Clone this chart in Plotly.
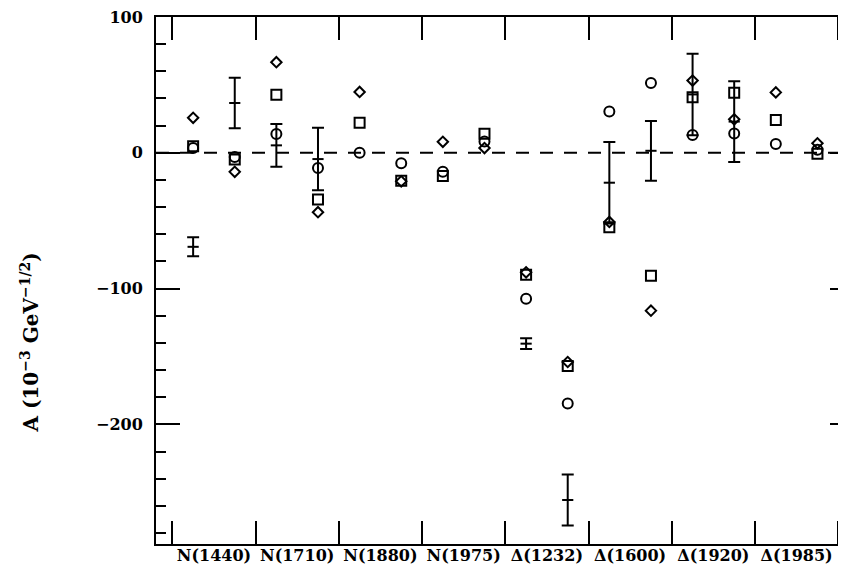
import plotly.graph_objects as go

categories = ["N(1440)", "N(1710)", "N(1880)", "N(1975)",
              "Δ(1232)", "Δ(1600)", "Δ(1920)", "Δ(1985)"]

# two amplitude columns per resonance (A1/2, A3/2)
diamond = [25.8, -14.0, 66.7, -43.7, 44.8, -21.0, 8.1, 3.5,
           -88.0, -154.0, -50.9, -116.2, 53.2, 24.7, 44.5, 7.0]
square = [4.8, -5.0, 42.7, -34.3, 22.1, -20.6, -17.0, 14.1,
          -89.8, -156.9, -54.8, -90.5, 41.0, 44.3, 24.1, -0.6]
circle = [3.5, -3.0, 13.9, -11.1, 0.0, -7.6, -14.0, 8.4,
          -107.4, -184.6, 30.4, 51.4, 13.1, 14.2, 6.5, 2.3]
exp_val = [-69.2, 36.7, 5.5, -4.6, None, None, None, None,
           -140.5, -255.6, -22.0, 1.5, 43.0, 23.0, None, None]
exp_err = [7.0, 18.6, 15.7, 23.0, None, None, None, None,
           4.0, 18.7, 30.0, 22.0, 30.0, 29.7, None, None]

ytick_vals = [100, 0, -100, -200]

xpos = []
for i in range(len(categories)):
    xpos += [i + 0.25, i + 0.75]

FONT = "DejaVu Serif"
BLACK = "black"

# the page body adds an 8px margin, so the figure is sized to fit the window
W, H = 838, 564
ML, MT, MB, MR = 147.5, 9, 28, 0
PW, PH = W - ML - MR, H - MT - MB

fig = go.Figure()


def open_marker(sym, size):
    return dict(symbol=sym, size=size, color=BLACK,
                line=dict(color=BLACK, width=2))


fig.add_trace(go.Scatter(x=xpos, y=diamond, mode="markers",
                         marker=open_marker("diamond-open", 8), showlegend=False))
fig.add_trace(go.Scatter(x=xpos, y=square, mode="markers",
                         marker=open_marker("square-open", 10), showlegend=False))
fig.add_trace(go.Scatter(x=xpos, y=circle, mode="markers",
                         marker=open_marker("circle-open", 10), showlegend=False))
fig.add_trace(go.Scatter(
    x=xpos, y=exp_val, mode="markers",
    marker=dict(symbol="line-ew", size=8, color=BLACK,
                line=dict(color=BLACK, width=2)),
    error_y=dict(type="data", array=exp_err, visible=True,
                 thickness=2, width=6, color=BLACK),
    showlegend=False))

# overlay axes: category labels between the major ticks, right-hand ticks
fig.add_trace(go.Scatter(x=[None], y=[None], xaxis="x2", yaxis="y2",
                         showlegend=False, hoverinfo="skip"))

fig.add_shape(type="line", xref="paper", x0=0, x1=1, yref="y", y0=0, y1=0,
              line=dict(color=BLACK, width=2, dash="13px,11px"))

fig.add_annotation(
    text="A (10<sup>−3</sup> GeV<sup>−1/2</sup>)",
    xref="paper", yref="paper", x=(21 - ML) / PW, y=(H - MB - 335) / PH,
    xanchor="center", yanchor="middle", textangle=-90, showarrow=False,
    font=dict(family=FONT, size=20, color=BLACK, weight="bold"))

fig.update_layout(
    width=W, height=H,
    margin=dict(l=ML, r=MR, t=MT, b=MB, autoexpand=False),
    plot_bgcolor="white", paper_bgcolor="white",
    font=dict(family=FONT, size=16, color=BLACK, weight="bold"),
    xaxis=dict(range=[-0.196, 8.093], tickvals=list(range(len(categories) + 1)),
               showticklabels=False, ticks="inside", ticklen=23, tickwidth=2,
               tickcolor=BLACK, showline=True, linecolor=BLACK, linewidth=2,
               mirror="ticks", showgrid=False, zeroline=False, automargin=False),
    xaxis2=dict(overlaying="x", matches="x", side="bottom",
                tickvals=[i + 0.5 for i in range(len(categories))],
                ticktext=categories, ticks="", showline=False,
                showgrid=False, zeroline=False, automargin=False,
                ticklabeloverflow="allow",
                tickfont=dict(family=FONT, size=16, color=BLACK, weight="bold")),
    yaxis=dict(range=[-288, 100], tickvals=ytick_vals,
               ticks="inside", ticklen=24, tickwidth=2, tickcolor=BLACK,
               minor=dict(dtick=20, tick0=0, ticks="inside", ticklen=10,
                          tickwidth=2, tickcolor=BLACK, showgrid=False),
               showline=True, linecolor=BLACK, linewidth=2, mirror=False,
               showgrid=False, zeroline=False, ticklabelstandoff=8,
               automargin=False, ticklabeloverflow="allow",
               tickfont=dict(family=FONT, size=16, color=BLACK, weight="bold")),
    yaxis2=dict(overlaying="y", matches="y", side="right",
                tickvals=ytick_vals, ticks="inside", ticklen=16, tickwidth=2,
                tickcolor=BLACK, showticklabels=False, automargin=False,
                minor=dict(dtick=20, tick0=0, ticks="inside", ticklen=3,
                           tickwidth=2, tickcolor=BLACK, showgrid=False),
                showline=False, showgrid=False, zeroline=False),
)

fig.write_html("out.html")
